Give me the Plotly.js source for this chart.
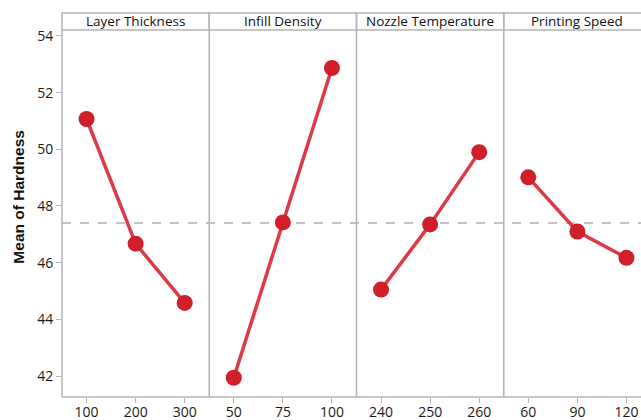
<!DOCTYPE html>
<html>
<head>
<meta charset="utf-8">
<script src="https://cdn.plot.ly/plotly-3.0.1.min.js"></script>
<style>
html,body{margin:0;padding:0;width:641px;height:420px;overflow:hidden;background:#fff;}
#chart{width:660px;height:420px;}
</style>
</head>
<body>
<div id="chart"></div>
<script>
// Data
const factors = ["Layer Thickness", "Infill Density", "Nozzle Temperature", "Printing Speed"];
const levelsLayer = ["100", "200", "300"];
const levelsInfill = ["50", "75", "100"];
const levelsNozzle = ["240", "250", "260"];
const levelsSpeed = ["60", "90", "120"];
const meansLayer = [51.07, 46.67, 44.58];
const meansInfill = [41.94, 47.42, 52.87];
const meansNozzle = [45.05, 47.35, 49.90];
const meansSpeed = [49.01, 47.10, 46.17];
const grandMean = 47.4;

const levels = [levelsLayer, levelsInfill, levelsNozzle, levelsSpeed];
const means = [meansLayer, meansInfill, meansNozzle, meansSpeed];

const W = 660, H = 420;
const L = 62, R = 651, T = 30, B = 396.7;
const pw = R - L, ph = B - T;
const grey = "#b4b4b4";

const traces = [];
const layout = {
  width: W, height: H,
  margin: {l: L, r: W - R, t: T, b: H - B, pad: 0},
  paper_bgcolor: "#fff", plot_bgcolor: "#fff",
  showlegend: false,
  font: {family: "Open Sans, Noto Sans, sans-serif", size: 13, color: "#222"},
  yaxis: {
    range: [41.26, 54.21], dtick: 2, tick0: 0,
    ticks: "outside", ticklen: 5, tickcolor: grey, tickwidth: 1,
    showgrid: false, zeroline: false, showline: false,
    tickfont: {size: 14, color: "#1a1a1a"}, fixedrange: true
  },
  shapes: [], annotations: []
};

for (let i = 0; i < 4; i++) {
  const ax = i === 0 ? "x" : "x" + (i + 1);
  const axName = i === 0 ? "xaxis" : "xaxis" + (i + 1);
  const d0 = i / 4, d1 = (i + 1) / 4;
  layout[axName] = {
    domain: [d0, d1], type: "category", range: [-0.5, 2.5],
    anchor: "y", ticks: "outside", ticklen: 5, tickcolor: grey,
    ticklabelstandoff: -3,
    showgrid: false, zeroline: false, showline: false,
    tickfont: {size: 14, color: "#1a1a1a"}, fixedrange: true
  };
  traces.push({
    x: levels[i], y: means[i], xaxis: ax, yaxis: "y",
    type: "scatter", mode: "lines+markers",
    line: {color: "#dc3a45", width: 3.5},
    marker: {color: "#d01f2b", size: 16},
    hoverinfo: "skip"
  });
  // strip header box
  layout.shapes.push({
    type: "rect", xref: "paper", yref: "paper",
    x0: d0, x1: d1, y0: 1, y1: 1 + 17 / ph,
    line: {color: grey, width: 1.5}, fillcolor: "rgba(0,0,0,0)"
  });
  layout.annotations.push({
    xref: "paper", yref: "paper", x: (d0 + d1) / 2, y: 1 + 8.5 / ph,
    text: factors[i], showarrow: false, xanchor: "center", yanchor: "middle",
    font: {size: 13.5, color: "#111"}
  });
  // panel vertical borders
  layout.shapes.push({
    type: "line", xref: "paper", yref: "paper",
    x0: d0, x1: d0, y0: 0, y1: 1,
    line: {color: grey, width: 1.5}
  });
}
// right border and bottom line
layout.shapes.push({type: "line", xref: "paper", yref: "paper", x0: 1, x1: 1, y0: 0, y1: 1, line: {color: grey, width: 1.5}});
layout.shapes.push({type: "line", xref: "paper", yref: "paper", x0: 0, x1: 1, y0: 0, y1: 0, line: {color: grey, width: 1.5}});
// grand mean reference line
layout.shapes.push({
  type: "line", xref: "paper", yref: "y", x0: 0, x1: 1, y0: grandMean, y1: grandMean,
  line: {color: "#b0b0b0", width: 1.3, dash: "dash"}, layer: "below"
});
// y title
layout.annotations.push({
  xref: "paper", yref: "paper", x: (18.5 - L) / pw, y: (B - 197) / ph,
  text: "<b>Mean of Hardness</b>", textangle: -90, showarrow: false,
  xanchor: "center", yanchor: "middle",
  font: {family: "Liberation Sans, Arial, sans-serif", size: 15.5, color: "#111"}
});

Plotly.newPlot("chart", traces, layout, {displayModeBar: false, staticPlot: true});
</script>
</body>
</html>
